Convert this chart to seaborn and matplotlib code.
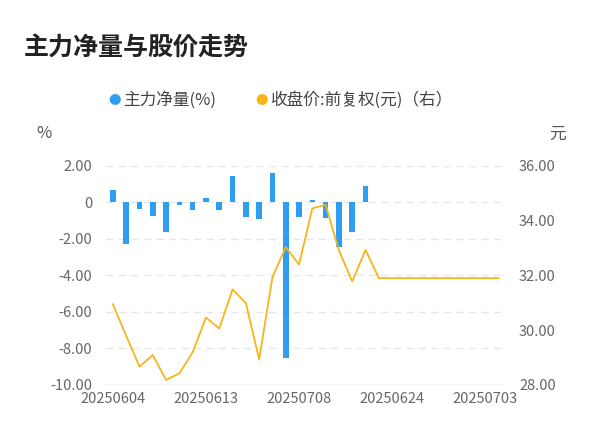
import numpy as np
import pandas as pd
import matplotlib.pyplot as plt
import seaborn as sns

plt.rcParams['font.family'] = 'sans-serif'
plt.rcParams['font.sans-serif'] = ['Noto Sans CJK SC', 'Noto Sans CJK JP', 'Noto Sans CJK TC',
                                   'Noto Sans CJK KR', 'DejaVu Sans']

# 主力净量 (%) for the first 20 days, price for all 30 days
net_flow = [0.69, -2.27, -0.36, -0.73, -1.64, -0.15, -0.40, 0.22, -0.42, 1.42,
            -0.82, -0.91, 1.60, -8.51, -0.82, 0.13, -0.85, -2.42, -1.64, 0.91]
price = [30.95, 29.80, 28.67, 29.09, 28.18, 28.42, 29.19, 30.46, 30.06, 31.49,
         30.99, 28.93, 31.94, 33.03, 32.40, 34.45, 34.58, 32.91, 31.78, 32.93,
         31.90, 31.90, 31.90, 31.90, 31.90, 31.90, 31.90, 31.90, 31.90, 31.90]
tick_pos = [0, 7, 14, 21, 28]
tick_labels = ['20250604', '20250613', '20250708', '20250624', '20250703']

bar_df = pd.DataFrame({'x': np.arange(len(net_flow)), 'v': net_flow})
line_df = pd.DataFrame({'x': np.arange(len(price)), 'p': price})

fig = plt.figure(figsize=(6, 4.46), dpi=100)
ax = fig.add_axes([0.177, 0.137, 0.665, 0.491])
ax2 = ax.twinx()

sns.barplot(data=bar_df, x='x', y='v', color='#2f9ef0', width=0.42, saturation=1,
            native_scale=True, ax=ax, zorder=3)
sns.lineplot(data=line_df, x='x', y='p', color='#f7b51b', linewidth=1.3, ax=ax2)

ax.set_xlim(-0.5, 29.5)
ax.set_ylim(-10, 2)
ax.set_yticks(np.arange(-10, 3, 2))
ax.set_yticklabels([f'{v:.2f}' if v != 0 else '0' for v in np.arange(-10, 3, 2)])
ax2.set_ylim(28, 36)
ax2.set_yticks(np.arange(28, 37, 2))
ax2.set_yticklabels([f'{v:.2f}' for v in np.arange(28, 37, 2)])
ax.set_xticks(tick_pos)
ax.set_xticklabels(tick_labels)

for a in (ax, ax2):
    for s in a.spines.values():
        s.set_visible(False)
    a.tick_params(length=0, labelsize=10.5, colors='#666666')
    a.set_xlabel('')
    a.set_ylabel('')
ax.grid(axis='y', color='#e6e6e6', linestyle=(0, (5, 4)), linewidth=1, zorder=0)
ax.axhline(-10, color='#dddddd', linewidth=1)
ax.tick_params(axis='y', pad=10)
ax2.tick_params(axis='y', pad=10)
ax.tick_params(axis='x', pad=5)

fig.text(0.04, 0.875, '主力净量与股价走势', fontsize=18, fontweight='bold', color='#222222')
fig.text(0.06, 0.69, '%', fontsize=12, color='#555555')
fig.text(0.915, 0.69, '元', fontsize=12, color='#555555')

fig.text(0.18, 0.775, '●', fontsize=9, color='#2f9ef0', va='center')
fig.text(0.205, 0.775, '主力净量(%)', fontsize=12, color='#444444', va='center')
fig.text(0.425, 0.775, '●', fontsize=9, color='#f7b51b', va='center')
fig.text(0.45, 0.775, '收盘价:前复权(元)（右）', fontsize=12, color='#444444', va='center')

fig.savefig('out.png', dpi=100)
